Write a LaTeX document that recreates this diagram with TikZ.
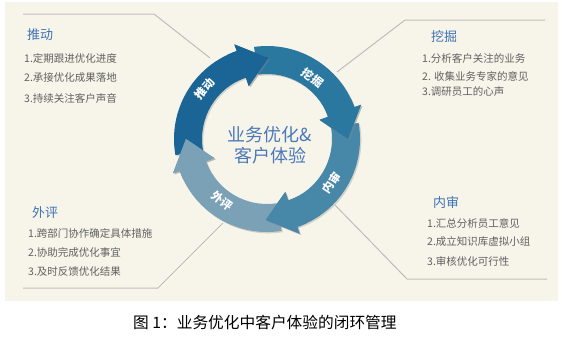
\documentclass[tikz,border=0pt]{standalone}
\usepackage{fontspec}
\setmainfont{Noto Sans CJK SC}
\definecolor{bgcream}{HTML}{F7F5EA}
\definecolor{guidegray}{HTML}{BDBDBD}
\definecolor{titleblue}{HTML}{3F72B6}
\definecolor{corelblue}{HTML}{4A78B8}
\definecolor{itemgray}{HTML}{606060}
\definecolor{cPush}{HTML}{1A6496}
\definecolor{cDig}{HTML}{2A78A0}
\definecolor{cAudit}{HTML}{4787A8}
\definecolor{cReview}{HTML}{7AA1B6}
\tikzset{
  guide/.style={draw=guidegray, line width=1pt},
  titletxt/.style={anchor=west, inner sep=0pt, text=titleblue, font=\fontsize{13}{15}\selectfont},
  itemtxt/.style={anchor=west, inner sep=0pt, text=itemgray, font=\fontsize{10.5}{12}\selectfont},
  ringlbl/.style={inner sep=0pt, text=white, font=\fontsize{11.5}{13}\selectfont\bfseries},
  shade/.style={fill=black!45, fill opacity=0.35, shift={(1.3pt,-1.3pt)}},
  ringarrow/.style 2 args={insert path={(#1:93pt) arc[start angle=#1,end angle=#2,radius=93pt] -- (#2:100pt) -- ({#2-20}:81pt) -- (#2:56pt) -- (#2:65pt) arc[start angle=#2,end angle=#1,radius=65pt] -- cycle}},
  ringhead/.style={insert path={({#1+6}:93pt) arc[start angle={#1+6},end angle=#1,radius=93pt] -- (#1:100pt) -- ({#1-20}:81pt) -- (#1:56pt) -- (#1:65pt) arc[start angle=#1,end angle={#1+6},radius=65pt] -- cycle}},
  headtri/.style={insert path={(#1:100pt) -- ({#1-20}:81pt) -- (#1:56pt) -- cycle}},
}
\begin{document}
\begin{tikzpicture}[x=1pt,y=1pt]
\useasboundingbox (0,0) rectangle (562,-338);
\fill[white] (0,0) rectangle (562,-338);
\fill[bgcream] (5,-2) rectangle (558,-301);

% guide lines
\coordinate (tlA) at (23,-14);
\coordinate (tlB) at (154,-14);
\coordinate (tlC) at (210,-58);
\coordinate (trA) at (545,-20);
\coordinate (trB) at (405,-20);
\coordinate (trC) at (337,-72);
\coordinate (brA) at (547,-279);
\coordinate (brB) at (407,-279);
\coordinate (brC) at (335,-205);
\coordinate (blA) at (23,-288);
\coordinate (blB) at (158,-288);
\coordinate (blC) at (223,-223);
\draw[guide] (tlA) -- (tlB) -- (tlC);
\draw[guide] (trA) -- (trB) -- (trC);
\draw[guide] (brA) -- (brB) -- (brC);
\draw[guide] (blA) -- (blB) -- (blC);

% cycle arrows
\begin{scope}[shift={(267,-139)}]
  \path[shade] [ringarrow={190}{109}];
  \path[shade] [ringarrow={98}{20}];
  \path[shade] [ringarrow={10}{-71}];
  \path[shade] [ringarrow={279}{200}];
  \path[fill=cPush] [ringarrow={190}{109}];
  \path[fill=cDig] [ringarrow={98}{20}];
  \path[fill=cAudit] [ringarrow={10}{-71}];
  \path[fill=cReview] [ringarrow={279}{200}];
  % heads over the next tails
  \path[shade] [headtri={109}];
  \path[shade] [headtri={20}];
  \path[shade] [headtri={-71}];
  \path[shade] [headtri={200}];
  \path[fill=cPush] [ringhead={109}];
  \path[fill=cDig] [ringhead={20}];
  \path[fill=cAudit] [ringhead={-71}];
  \path[fill=cReview] [ringhead={200}];
  \node[ringlbl, rotate=51] (lPush) at (141:80pt) {推动};
  \node[ringlbl, rotate=-37] (lDig) at (53:76pt) {挖掘};
  \node[ringlbl, rotate=56] (lAudit) at (-34:78pt) {内审};
  \node[ringlbl, rotate=-36] (lReview) at (234:76pt) {外评};
\end{scope}

\node[align=center, inner sep=0pt, text=corelblue, font=\fontsize{18}{21}\selectfont] (core) at (270,-145.5) {业务优化\&\\客户体验};

% text blocks
\node[titletxt] (tPush) at (27,-35) {推动};
\node[itemtxt] (p1) at (24,-58) {1.定期跟进优化进度};
\node[itemtxt] (p2) at (24,-78) {2.承接优化成果落地};
\node[itemtxt] (p3) at (24,-98) {3.持续关注客户声音};

\node[titletxt] (tDig) at (431,-37) {挖掘};
\node[itemtxt] (d1) at (422,-58) {1.分析客户关注的业务};
\node[itemtxt] (d2) at (422,-76) {2. 收集业务专家的意见};
\node[itemtxt] (d3) at (422,-92) {3.调研员工的心声};

\node[titletxt] (tReview) at (32,-213) {外评};
\node[itemtxt] (r1) at (28,-233) {1.跨部门协作确定具体措施};
\node[itemtxt] (r2) at (28,-252) {2.协助完成优化事宜};
\node[itemtxt] (r3) at (28,-272) {3.及时反馈优化结果};

\node[titletxt] (tAudit) at (433,-203) {内审};
\node[itemtxt] (a1) at (427,-223) {1.汇总分析员工意见};
\node[itemtxt] (a2) at (427,-242) {2.成立知识库虚拟小组};
\node[itemtxt] (a3) at (427,-261) {3.审核优化可行性};

\node[anchor=west, inner sep=0pt, text=black, font=\fontsize{15.7}{18}\selectfont] (cap) at (133,-323) {图 1：业务优化中客户体验的闭环管理};
\end{tikzpicture}
\end{document}
